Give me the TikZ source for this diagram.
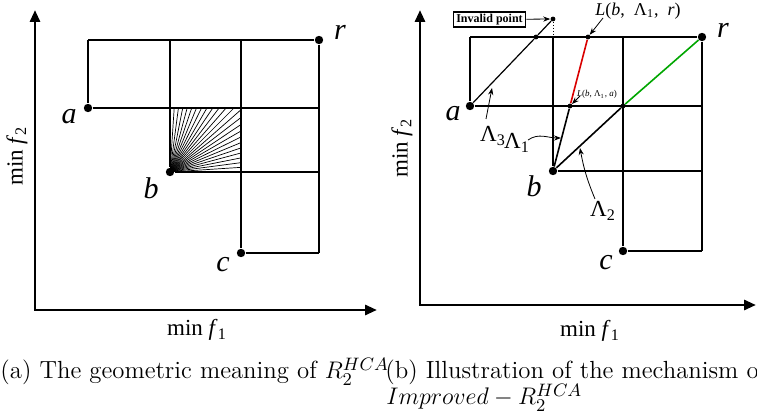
\documentclass[tikz,border=0pt]{standalone}
\usepackage{fontspec}
\newfontfamily\tms{Liberation Serif}
\usetikzlibrary{arrows.meta,calc}
\begin{document}
\begin{tikzpicture}[x=0.5pt,y=-0.5pt,
 axis/.style={line width=1.4pt,{Triangle[length=6pt,width=5pt]}-{Triangle[length=6pt,width=5pt]}},
 gridline/.style={line width=0.6pt},
 edge/.style={line width=1.2pt},
 topedge/.style={line width=1pt},
 bigdot/.style={circle,fill=black,inner sep=0pt,minimum size=4.2pt},
 smalldot/.style={circle,fill=black,inner sep=0pt,minimum size=2.4pt},
 ptlabel/.style={font=\tms\itshape\fontsize{15}{17}\selectfont,inner sep=0pt},
 axlabel/.style={font=\tms\fontsize{11.5}{13}\selectfont,inner sep=0pt},
 lamlabel/.style={font=\tms\fontsize{11.5}{13}\selectfont,inner sep=0pt},
 ptr/.style={line width=0.4pt,-{Stealth[length=3.5pt,width=2.6pt]}},
 fanline/.style={line width=0.35pt},
 capt/.style={font=\fontsize{12.4}{14.5}\selectfont,inner sep=0pt,anchor=base west},
]
\useasboundingbox (0,0) rectangle (757,417);

% ---------------- left panel ----------------
\coordinate (Y1) at (35,10);
\coordinate (O1) at (35,310);
\coordinate (X1) at (377,310);
\draw[axis] (Y1) -- (O1) -- (X1);

\node[bigdot] (a1) at (88,108) {};
\node[bigdot] (b1) at (170,172) {};
\node[bigdot] (c1) at (241,253) {};
\node[bigdot] (r1) at (319,40) {};
\coordinate (t1a) at (88,40);
\coordinate (t1b) at (170,40);
\coordinate (t1c) at (241,40);
\coordinate (e1a) at (319,108);
\coordinate (e1b) at (319,172);
\coordinate (e1c) at (319,253);

\draw[topedge] (t1a) -- (r1);
\draw[gridline] (t1a) -- (a1);
\draw[gridline] (t1b) -- (b1);
\draw[gridline] (t1c) -- (c1);
\draw[edge] (r1) -- (e1c);
\draw[gridline] (a1) -- (e1a);
\draw[gridline] (b1) -- (e1b);
\draw[gridline] (c1) -- (e1c);

\begin{scope}
\clip (170,108) rectangle (241,172);
\foreach \t in {0,3.75,...,90}
  \draw[fanline] (b1.center) -- ++({150*cos(\t)},{-150*sin(\t)});
\end{scope}

\node[ptlabel] (la1) at (69,117) {a};
\node[ptlabel] (lb1) at (151,188) {b};
\node[ptlabel] (lc1) at (223,265) {c};
\node[ptlabel] (lr1) at (340,32) {r};
\node[axlabel,rotate=90] (ly1) at (17,156) {min \textit{f}\textsubscript{2}};
\node[axlabel] (lx1) at (197,330) {min \textit{f}\textsubscript{1}};

% ---------------- right panel ----------------
\coordinate (Y2) at (420,10);
\coordinate (O2) at (420,305);
\coordinate (X2) at (756,305);
\draw[axis] (Y2) -- (O2) -- (X2);

\node[bigdot] (a2) at (470,106) {};
\node[bigdot] (b2) at (553,171) {};
\node[bigdot] (c2) at (623,251) {};
\node[bigdot] (r2) at (702,37) {};
\coordinate (t2a) at (470,37);
\coordinate (t2b) at (553,37);
\coordinate (t2c) at (623,37);
\coordinate (e2a) at (702,106);
\coordinate (e2b) at (702,171);
\coordinate (e2c) at (702,251);

\draw[edge] (t2a) -- (r2);
\draw[gridline] (t2a) -- (a2);
\draw[gridline] (t2b) -- (b2);
\draw[gridline] (t2c) -- (c2);
\draw[edge] (r2) -- (e2c);
\draw[gridline] (a2) -- (e2a);
\draw[gridline] (b2) -- (e2b);
\draw[gridline] (c2) -- (e2c);

\node[smalldot] (p1) at (536,37) {};
\node[smalldot] (p2) at (588,37) {};
\node[smalldot] (q1) at (570,106) {};
\node[smalldot] (q2) at (623,106) {};
\node[smalldot] (inv) at (553,19) {};

\draw[line width=0.5pt, densely dotted] (inv) -- (t2b);
\draw[line width=0.6pt] (a2) -- (p1) -- (inv);
\draw[line width=0.8pt] (b2) -- (q1);
\draw[line width=0.8pt, red!85!black] (q1) -- (p2);
\draw[line width=0.8pt] (b2) -- (q2);
\draw[line width=0.8pt, green!65!black] (q2) -- (r2);

\node[draw, line width=0.6pt, font=\tms\bfseries\fontsize{6}{7}\selectfont,
      inner xsep=1.5pt, inner ysep=1pt] (invbox) at (489.5,19.5) {Invalid point};
\draw[ptr] (invbox) -- (inv);

\node[font=\tms\fontsize{9}{10}\selectfont, inner sep=0pt] (Lr) at (638,11)
  {\textit{L}(\textit{b},~ Λ\textsubscript{1},~ \textit{r})};
\coordinate (Lrs) at (603,18);
\draw[ptr] (Lrs) -- (p2);

\node[font=\tms\fontsize{4.5}{5}\selectfont, inner sep=0pt] (La) at (597,94)
  {\textit{L}(\textit{b},~Λ\textsubscript{1},~\textit{a})};
\coordinate (Las) at (580,96);
\draw[ptr] (Las) -- (q1);

\node[lamlabel] (lam3) at (493,136) {Λ\textsubscript{3}};
\node[lamlabel] (lam1) at (517,143) {Λ\textsubscript{1}};
\node[lamlabel] (lam2) at (603,211) {Λ\textsubscript{2}};
\coordinate (s3) at (486,119);
\coordinate (h3) at (492,88);
\coordinate (s1) at (528,140);
\coordinate (h1) at (561,138);
\coordinate (s2) at (595,199);
\coordinate (h2) at (580,148);
\draw[ptr] (s3) -- (h3);
\draw[ptr] (s1) to[out=35,in=180] (h1);
\draw[ptr] (s2) to[bend left=6] (h2);

\node[ptlabel] (la2) at (453,114) {a};
\node[ptlabel] (lb2) at (534,186) {b};
\node[ptlabel] (lc2) at (606,263) {c};
\node[ptlabel] (lr2) at (723,30) {r};
\node[axlabel,rotate=90] (ly2) at (402,148) {min \textit{f}\textsubscript{2}};
\node[axlabel] (lx2) at (590,331) {min \textit{f}\textsubscript{1}};

% ---------------- captions ----------------
\begin{scope}
\clip (0,0) rectangle (757,417);
\node[capt] (capa) at (0,379) {(a) The geometric meaning of $R_2^{HCA}$};
\node[capt] (capb) at (385,379) {(b) Illustration of the mechanism of};
\node[capt] (capb2) at (386,405) {$Improved-R_2^{HCA}$};
\end{scope}
\end{tikzpicture}
\end{document}
